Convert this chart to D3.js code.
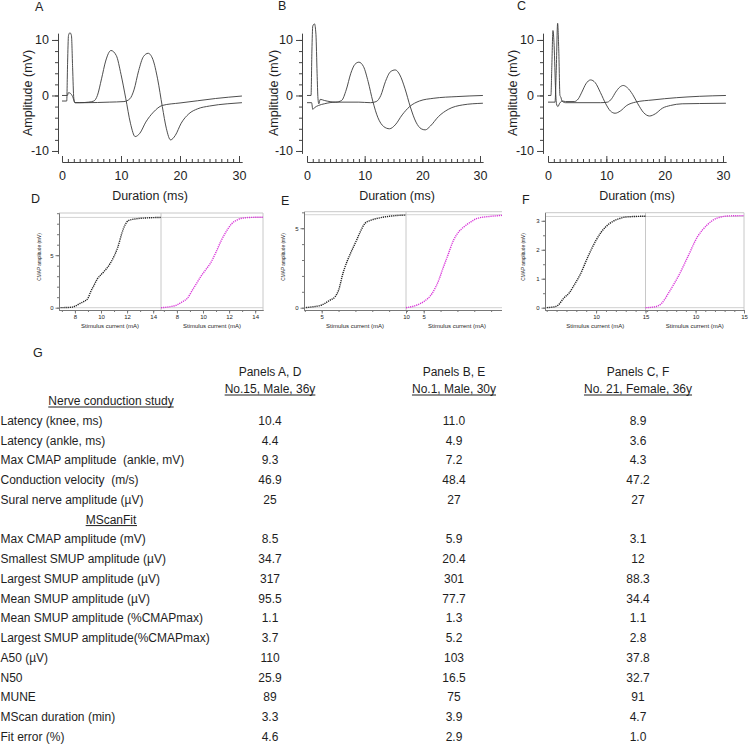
<!DOCTYPE html>
<html>
<head>
<meta charset="utf-8">
<script src="https://cdn.jsdelivr.net/npm/d3@7"></script>
<style>
  body { margin: 0; background: #fff; }
  svg text { font-family: "Liberation Sans", Arial, sans-serif; fill: #1e1e1e; }
</style>
</head>
<body>
<svg id="fig" width="750" height="746"></svg>
<script>
// CMAP traces, [ms, mV]
const waveA1 = [[0,0],[0.9,0],[1.1,0.5],[1.4,0.4],[1.8,-0.2],[2.2,-1.3],[3,-1.3],[4.5,-1.2],[5.4,-1.0],[6.0,0],[6.7,3],[7.4,6.2],[8.3,8.1],[9.2,7.2],[10.0,3.8],[10.8,-0.5],[11.6,-5],[12.4,-7.4],[13.2,-6.8],[14.2,-4.8],[15.5,-3],[17,-1.8],[20,-1.35],[23,-0.95],[26,-0.55],[30.5,-0.1]];
const waveA2 = [[0,-1],[0.8,-1],[0.95,6],[1.1,10.8],[1.35,11.3],[1.6,10.8],[1.8,5],[2.0,-0.5],[2.2,-1.3],[4,-1.3],[8,-1.2],[10.5,-1.1],[11.5,-0.6],[12.2,1],[13.0,4.5],[13.8,7],[14.6,7.6],[15.4,6.5],[16.2,3],[17.0,-2],[17.7,-6],[18.4,-8],[19.2,-7.2],[20.2,-5],[21.5,-3.3],[23,-2.4],[25,-1.9],[28,-1.5],[30.5,-1.3]];
const waveB1 = [[0,0],[0.7,0],[0.85,8],[1.0,12.5],[1.3,12.9],[1.55,11],[1.75,4],[1.9,-0.5],[2.05,-1.5],[2.3,-0.7],[3,-0.9],[5,-1.2],[6,-0.9],[6.8,1],[7.6,4],[8.3,5.6],[9,6.0],[9.8,5.2],[10.6,2.5],[11.4,-1],[12.3,-4],[13.3,-5.6],[14.3,-6],[15.3,-5.3],[16.5,-3.5],[17.8,-2],[19.5,-1],[22,-0.5],[26,-0.2],[30.5,0]];
const waveB2 = [[0,-1.3],[0.8,-1.3],[1.0,-2.5],[1.3,-2.2],[2,-1.8],[3,-1.5],[5,-1.2],[9,-1.2],[11,-1.3],[12,-1.1],[12.8,0],[13.6,2.5],[14.5,4.3],[15.3,4.6],[16.1,3.7],[17,1.2],[17.9,-2],[18.9,-4.8],[19.8,-6.0],[20.5,-6.2],[21.4,-5.5],[22.8,-3.8],[24.5,-2.5],[27,-1.7],[30.5,-1.4]];
const waveC1 = [[0,0],[0.5,0],[0.65,5],[0.85,11.7],[1.05,9],[1.3,1],[1.45,-1.5],[1.7,-2],[2,-1.4],[2.5,-1],[3,-1.1],[4.5,-1.1],[5.2,-0.6],[5.8,0.6],[6.5,2.1],[7.3,2.8],[8.1,2.3],[9,0.5],[9.9,-1.5],[10.7,-2.8],[11.5,-3.2],[12.4,-2.8],[13.5,-1.8],[15,-1.2],[18,-0.8],[22,-0.4],[26,-0.15],[30.5,0]];
const waveC2 = [[0,-1.2],[1.2,-1.2],[1.4,4],[1.65,13],[1.85,8],[2.05,0],[2.2,-0.3],[2.4,-1.0],[3,-1.3],[6,-1.3],[9,-1.3],[10.2,-1.2],[10.9,-0.6],[11.6,0.6],[12.3,1.5],[12.9,1.8],[13.6,1.4],[14.5,0.2],[15.4,-1.5],[16.4,-3.1],[17.4,-3.7],[18.4,-3.3],[19.6,-2.3],[21,-1.8],[23,-1.5],[26,-1.45],[30.5,-1.4]];
const durationTicks = [0, 10, 20, 30];
const amplitudeTicks = [-10, 0, 10];

// MScan curves, [stimulus mA, CMAP mV]
const scanDBlack = [[6.8,0],[7.4,0.02],[7.8,0.05],[8.1,0.2],[8.4,0.42],[8.7,0.6],[9.0,0.9],[9.2,1.5],[9.45,2.1],[9.7,2.7],[10.2,3.4],[10.7,4.2],[11.0,4.9],[11.3,5.8],[11.6,7.1],[11.85,7.9],[12.1,8.3],[12.6,8.45],[13.5,8.55],[14.6,8.6]];
const scanDPink = [[6.78,0],[7.5,0.1],[8.0,0.26],[8.4,0.55],[8.8,0.9],[9.2,1.7],[9.5,2.3],[9.85,3.0],[10.2,3.6],[10.6,4.3],[11.0,5.3],[11.4,6.4],[11.8,7.3],[12.2,8.0],[12.6,8.35],[12.9,8.5],[13.7,8.6],[14.6,8.62]];
const scanEBlack = [[3.95,0],[4.5,0.06],[5.0,0.17],[5.5,0.48],[5.8,0.7],[6.0,1.1],[6.27,2.2],[6.5,2.9],[6.7,3.4],[7.07,4.25],[7.3,4.8],[7.56,5.3],[7.9,5.5],[8.3,5.62],[9.0,5.75],[10,5.83]];
const scanEPink = [[3.95,0],[4.6,0.17],[5.0,0.38],[5.5,0.9],[5.9,1.75],[6.15,2.5],[6.4,3.2],[6.77,4.25],[7.1,4.8],[7.4,5.1],[7.8,5.4],[8.2,5.63],[9.0,5.75],[10,5.83]];
const scanFBlack = [[4.83,0],[5.8,0.03],[6.2,0.1],[6.7,0.32],[7.3,0.52],[7.9,0.85],[8.4,1.15],[9.2,1.78],[10.0,2.33],[10.5,2.6],[11.0,2.8],[11.7,2.98],[12.3,3.07],[13,3.13],[15,3.16]];
const scanFPink = [[4.83,0],[5.8,0.03],[6.5,0.15],[7.2,0.5],[7.7,0.78],[8.2,1.07],[9.2,1.76],[10.2,2.45],[10.7,2.68],[11.2,2.86],[12.2,3.09],[13.5,3.17],[15,3.18]];
const maxCmapLine = [8.6, 5.85, 3.15];

// table
const panelHeads = ['Panels A, D', 'Panels B, E', 'Panels C, F'];
const subjectHeads = ['No.15, Male, 36y', 'No.1, Male, 30y', 'No. 21, Female, 36y'];
const rowLabels = ['Nerve conduction study', 'Latency (knee, ms)', 'Latency (ankle, ms)', 'Max CMAP amplitude  (ankle, mV)',
  'Conduction velocity  (m/s)', 'Sural nerve amplitude (\u00b5V)', 'MScanFit', 'Max CMAP amplitude (mV)',
  'Smallest SMUP amplitude (\u00b5V)', 'Largest SMUP amplitude (\u00b5V)', 'Mean SMUP amplitude (\u00b5V)',
  'Mean SMUP amplitude (%CMAPmax)', 'Largest SMUP amplitude(%CMAPmax)', 'A50 (\u00b5V)', 'N50', 'MUNE',
  'MScan duration (min)', 'Fit error (%)'];
const sectionRows = [0, 6];
const valuesA = [null, '10.4', '4.4', '9.3', '46.9', '25', null, '8.5', '34.7', '317', '95.5', '1.1', '3.7', '110', '25.9', '89', '3.3', '4.6'];
const valuesB = [null, '11.0', '4.9', '7.2', '48.4', '27', null, '5.9', '20.4', '301', '77.7', '1.3', '5.2', '103', '16.5', '75', '3.9', '2.9'];
const valuesC = [null, '8.9', '3.6', '4.3', '47.2', '27', null, '3.1', '12', '88.3', '34.4', '1.1', '2.8', '37.8', '32.7', '91', '4.7', '1.0'];

const svg = d3.select('#fig');

function label(txt, x, y, size, anchor) {
  return svg.append('text').attr('x', x).attr('y', y).attr('font-size', size)
    .attr('text-anchor', anchor || 'start').style('white-space', 'pre').text(txt);
}

function underline(sel) {
  const bb = sel.node().getBBox();
  const y = +sel.attr('y') + 2;
  svg.append('line').attr('x1', bb.x).attr('x2', bb.x + bb.width).attr('y1', y).attr('y2', y)
    .attr('stroke', '#1e1e1e').attr('stroke-width', 1);
}

function styleAxis(color, size) {
  return sel => {
    sel.attr('font-family', null);
    sel.selectAll('path,line').attr('stroke', color);
    sel.selectAll('text').attr('font-size', size).attr('fill', '#1e1e1e');
  };
}

function drawWave(p) {
  const g = svg.append('g');
  const x = d3.scaleLinear([0, 30.5], [p.x0, p.x0 + p.span * 30.5 / 30]);
  const y = d3.scaleLinear([-10.4, 11.2], [153.2, 33.3]);

  g.append('g').attr('transform', `translate(${p.yAxisX},0)`)
    .call(d3.axisLeft(y).tickValues(d3.range(-10, 11, 2)).tickSize(3).tickSizeOuter(0).tickFormat(''))
    .call(styleAxis('#444', 12.5));
  g.append('g').attr('transform', `translate(${p.yAxisX},0)`)
    .call(d3.axisLeft(y).tickValues(amplitudeTicks).tickSize(6).tickPadding(3).tickSizeOuter(0).tickFormat(d => String(d)))
    .call(styleAxis('#444', 12.5));
  g.append('g').attr('transform', 'translate(0,162)')
    .call(d3.axisBottom(x).tickValues(d3.range(0, 31)).tickSize(-3).tickSizeOuter(0).tickFormat(''))
    .call(styleAxis('#444', 12.5));
  g.append('g').attr('transform', 'translate(0,162)')
    .call(d3.axisBottom(x).tickValues(durationTicks).tickSize(-6).tickPadding(9).tickSizeOuter(0))
    .call(styleAxis('#444', 12.5));

  const line = d3.line().x(d => x(d[0])).y(d => y(d[1])).curve(d3.curveMonotoneX);
  p.traces.forEach(t => {
    g.append('path').attr('d', line(t)).attr('fill', 'none')
      .attr('stroke', '#3a3a3a').attr('stroke-width', 0.9);
  });

  label(p.letter, p.letterX, p.letterY, 12.5);
  label('Duration (ms)', p.titleX, 200, 12.5, 'middle');
  svg.append('text').attr('transform', `translate(${p.yTitleX},93) rotate(-90)`)
    .attr('text-anchor', 'middle').attr('font-size', 12.5).text('Amplitude (mV)');
}

function drawScan(p) {
  const g = svg.append('g');
  if (p.clipRight) {
    svg.append('clipPath').attr('id', 'clip' + p.letter).append('rect')
      .attr('x', p.left - 60).attr('y', 180).attr('width', p.clipRight - p.left + 60).attr('height', 160);
    g.attr('clip-path', `url(#clip${p.letter})`);
  }
  const y = d3.scaleLinear(p.yDom, [p.bottom, p.top]);
  const light = '#c8c8c8';
  const hline = (v, c) => g.append('line').attr('x1', p.left).attr('x2', p.right)
    .attr('y1', v).attr('y2', v).attr('stroke', c).attr('stroke-width', 1);
  const vline = (v, c) => g.append('line').attr('x1', v).attr('x2', v)
    .attr('y1', p.top).attr('y2', p.bottom).attr('stroke', c).attr('stroke-width', 1);
  hline(p.top, light);
  hline(y(p.maxLine), '#d4d4d4');
  hline(y(0), '#d0d0d0');
  vline(p.mid, light);
  vline(p.right, light);

  const halves = [[p.left, p.mid, p.black, '#222'], [p.mid, p.right, p.pink, '#d936d9']];
  halves.forEach(([a, b, data, color]) => {
    const x = d3.scaleLinear(p.xDom, [a, b]);
    g.append('g').attr('transform', `translate(0,${p.bottom})`)
      .call(d3.axisBottom(x).tickValues(p.xMinor).tickSize(2).tickSizeOuter(0).tickFormat(''))
      .call(styleAxis('#777', 6));
    g.append('g').attr('transform', `translate(0,${p.bottom})`)
      .call(d3.axisBottom(x).tickValues(p.xMajor).tickSize(3.5).tickPadding(1.5).tickSizeOuter(0).tickFormat(d => String(d)))
      .call(styleAxis('#777', 6));
    const line = d3.line().x(d => x(d[0])).y(d => y(d[1])).curve(d3.curveMonotoneX);
    g.append('path').attr('d', line(data)).attr('fill', 'none').attr('stroke', color)
      .attr('stroke-width', 1.4).attr('stroke-dasharray', '1.2,0.9');
    g.append('text').attr('x', (a + b) / 2).attr('y', 328).attr('font-size', 6)
      .attr('text-anchor', 'middle').text('Stimulus current (mA)');
  });

  g.append('g').attr('transform', `translate(${p.left},0)`)
    .call(d3.axisLeft(y).tickValues(p.yMinor).tickSize(2).tickSizeOuter(0).tickFormat(''))
    .call(styleAxis('#777', 6));
  g.append('g').attr('transform', `translate(${p.left},0)`)
    .call(d3.axisLeft(y).tickValues(p.yMajor).tickSize(3.5).tickPadding(2).tickSizeOuter(0).tickFormat(d => String(d)))
    .call(styleAxis('#777', 6));

  g.append('text').attr('transform', `translate(${p.yTitleX},257) rotate(-90)`)
    .attr('text-anchor', 'middle').attr('font-size', 4.8).text('CMAP amplitude (mV)');
  label(p.letter, p.letterX, p.letterY, 12.5);
}

drawWave({ letter: 'A', letterX: 35, letterY: 11, x0: 62, span: 177, yAxisX: 58, titleX: 150, yTitleX: 32, traces: [waveA1, waveA2] });
drawWave({ letter: 'B', letterX: 278, letterY: 10, x0: 307, span: 173, yAxisX: 302, titleX: 397, yTitleX: 278, traces: [waveB1, waveB2] });
drawWave({ letter: 'C', letterX: 517, letterY: 10, x0: 548, span: 175, yAxisX: 543, titleX: 637, yTitleX: 517, traces: [waveC1, waveC2] });

drawScan({ letter: 'D', letterX: 31, letterY: 203, left: 59, mid: 161, right: 263, top: 213, bottom: 310,
  yDom: [-0.22, 9.02], yMajor: [0, 5], yMinor: d3.range(0, 10), xDom: [6.78, 14.6], xMajor: [8, 10, 12, 14], xMinor: d3.range(7, 15),
  black: scanDBlack, pink: scanDPink, maxLine: maxCmapLine[0], yTitleX: 41 });
drawScan({ letter: 'E', letterX: 281, letterY: 205, left: 304, mid: 406, right: 508, top: 211.7, bottom: 310, clipRight: 502,
  yDom: [-0.145, 6.04], yMajor: [0, 5], yMinor: d3.range(0, 7), xDom: [3.95, 10], xMajor: [5, 10], xMinor: d3.range(4, 11),
  black: scanEBlack, pink: scanEPink, maxLine: maxCmapLine[1], yTitleX: 285 });
drawScan({ letter: 'F', letterX: 522, letterY: 204, left: 545, mid: 645.5, right: 744, top: 212.7, bottom: 310,
  yDom: [-0.08, 3.28], yMajor: [0, 1, 2, 3], yMinor: d3.range(0, 3.3, 0.5), xDom: [4.83, 15], xMajor: [10, 15], xMinor: d3.range(5, 16),
  black: scanFBlack, pink: scanFPink, maxLine: maxCmapLine[2], yTitleX: 525 });

// table G
label('G', 33, 357, 12.5);
const colX = d3.scalePoint().domain([0, 1, 2]).range([270, 638]);
const rowY = d3.scalePoint().domain(d3.range(rowLabels.length)).range([405, 741]);
panelHeads.forEach((h, i) => label(h, colX(i), 376, 12, 'middle'));
subjectHeads.forEach((h, i) => underline(label(h, colX(i), 393, 12, 'middle')));

rowLabels.forEach((r, i) => {
  if (sectionRows.includes(i)) {
    underline(label(r, 111, rowY(i), 12, 'middle'));
  } else {
    label(r, 0.5, rowY(i), 12);
  }
});
[valuesA, valuesB, valuesC].forEach((col, c) => {
  col.forEach((v, i) => { if (v !== null) label(v, colX(c), rowY(i), 12, 'middle'); });
});
</script>
</body>
</html>
